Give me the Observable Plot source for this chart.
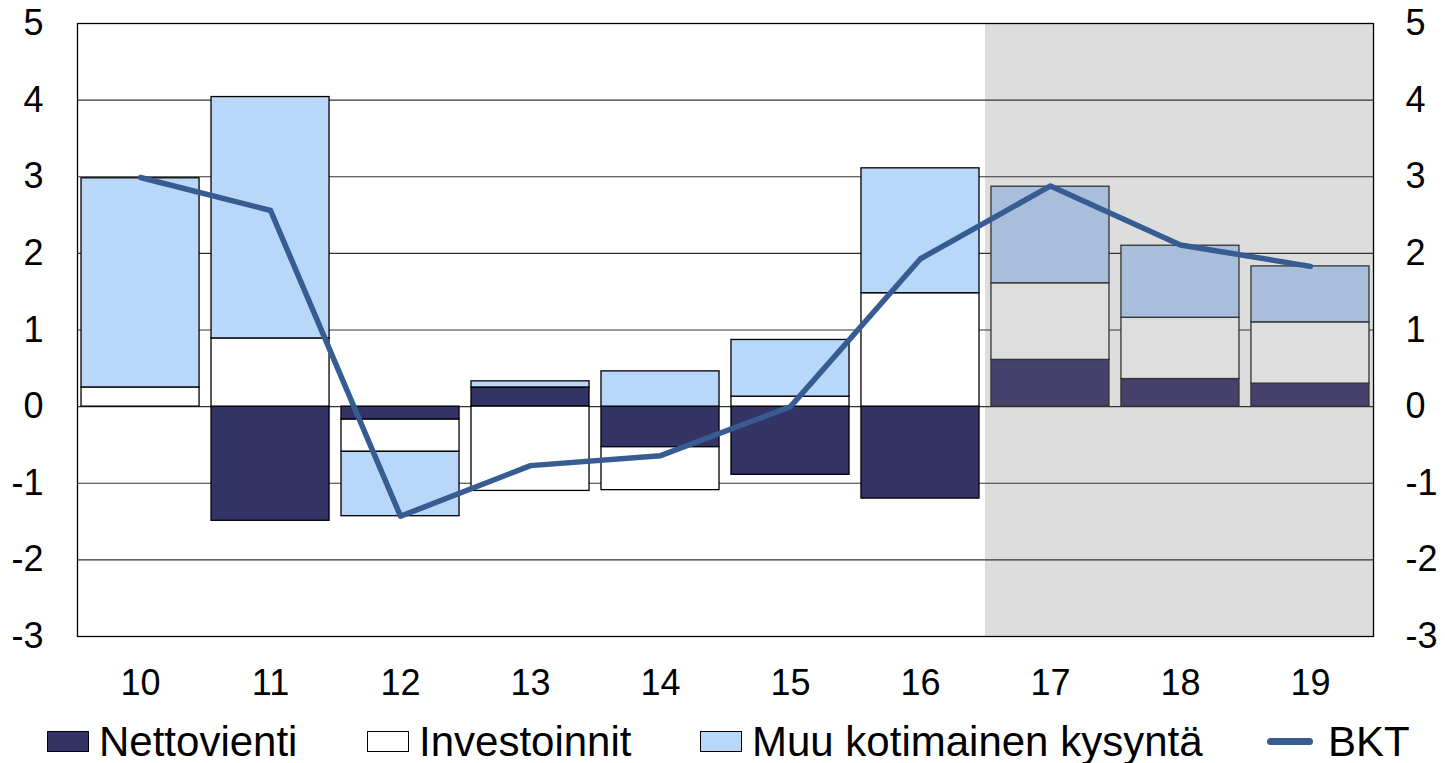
<!DOCTYPE html>
<html>
<head>
<meta charset="utf-8">
<script src="https://cdn.jsdelivr.net/npm/d3@7"></script>
<script src="https://cdn.jsdelivr.net/npm/@observablehq/plot@0.6"></script>
<style>
  html, body { margin: 0; padding: 0; background: #fff; }
  body { width: 1445px; height: 763px; overflow: hidden; font-family: "Liberation Sans", Arial, sans-serif; }
  #legend { position: relative; width: 1445px; height: 51px; font-size: 42px; color: #000; }
  .item { position: absolute; top: 4px; height: 51px; display: flex; align-items: center; white-space: nowrap; }
  .sw { display: inline-block; width: 42px; height: 21px; border: 1px solid #000; box-sizing: border-box; margin-right: 10px; }
  .ln { display: inline-block; width: 46px; height: 7px; border-radius: 4px; background: #365c92; margin-right: 15px; }
</style>
</head>
<body>
<div id="chart"></div>
<div id="legend"></div>
<script>
const years = ["10", "11", "12", "13", "14", "15", "16", "17", "18", "19"];
const forecastYears = ["17", "18", "19"];
const seriesNames = ["Nettovienti", "Investoinnit", "Muu kotimainen kysyntä"];
const nettovienti = [0.0, -1.49, -0.17, 0.25, -0.53, -0.89, -1.20, 0.61, 0.36, 0.30];
const investoinnit = [0.25, 0.89, -0.42, -1.10, -0.56, 0.13, 1.48, 1.00, 0.80, 0.80];
const muuKysynta = [2.73, 3.15, -0.84, 0.08, 0.46, 0.74, 1.63, 1.26, 0.94, 0.73];
const bkt = [2.99, 2.56, -1.43, -0.77, -0.64, 0.0, 1.93, 2.88, 2.11, 1.83];
const yTicks = [-3, -2, -1, 0, 1, 2, 3, 4, 5];
const gridTicks = [-2, -1, 0, 1, 2, 3, 4];

const colors = {
  "Nettovienti": "#333366",
  "Investoinnit": "#ffffff",
  "Muu kotimainen kysyntä": "#b9d7f8"
};
const forecastColors = {
  "Nettovienti": "#45416b",
  "Investoinnit": "#dedede",
  "Muu kotimainen kysyntä": "#a9bedb"
};

const seriesValues = [nettovienti, investoinnit, muuKysynta];
const bars = [];
seriesNames.forEach((s, si) => {
  years.forEach((y, i) => {
    bars.push({year: y, series: s, value: seriesValues[si][i]});
  });
});
const line = years.map((y, i) => ({year: y, value: bkt[i]}));
const isForecast = y => forecastYears.includes(y);

const chart = Plot.plot({
  width: 1445,
  height: 712,
  marginTop: 23,
  marginBottom: 76,
  marginLeft: 77,
  marginRight: 72,
  style: {fontFamily: "'Liberation Sans', Arial, sans-serif", background: "#fff"},
  x: {domain: years, paddingInner: 0.092, paddingOuter: 0.031, round: false, label: null},
  y: {domain: [-3, 5], label: null},
  color: {type: "identity"},
  marks: [
    Plot.barY(forecastYears.slice(0, 2), {x: d => d, y1: -3, y2: 5, fill: "#dddddd", insetLeft: -6, insetRight: -6}),
    Plot.barY(forecastYears.slice(2), {x: d => d, y1: -3, y2: 5, fill: "#dddddd", insetLeft: -6, insetRight: -5}),
    Plot.ruleY(gridTicks, {stroke: "#333", strokeWidth: 1.2}),
    Plot.barY(bars, Plot.stackY({
      x: "year",
      y: "value",
      z: "series",
      fill: d => (isForecast(d.year) ? forecastColors : colors)[d.series],
      stroke: d => isForecast(d.year) ? "#333" : "#000",
      strokeWidth: 1.3
    })),
    Plot.line(line, {x: "year", y: "value", stroke: "#365c92", strokeWidth: 5.5, strokeLinejoin: "round", strokeLinecap: "round"}),
    Plot.frame({stroke: "#000", strokeWidth: 1.3}),
    Plot.axisY(yTicks, {anchor: "left", tickSize: 0, tickPadding: 34, fontSize: 36, tickFormat: d => d}),
    Plot.axisY(yTicks, {anchor: "right", tickSize: 0, tickPadding: 32, fontSize: 36, tickFormat: d => d}),
    Plot.axisX(years, {anchor: "bottom", tickSize: 0, tickPadding: 33, fontSize: 36})
  ]
});
chart.querySelectorAll("text").forEach(t => t.setAttribute("fill", "#000"));
document.getElementById("chart").appendChild(chart);

const legendItems = [
  {label: "Nettovienti", left: 47, kind: "box", color: colors["Nettovienti"]},
  {label: "Investoinnit", left: 367, kind: "box", color: colors["Investoinnit"]},
  {label: "Muu kotimainen kysyntä", left: 700, kind: "box", color: colors["Muu kotimainen kysyntä"]},
  {label: "BKT", left: 1267, kind: "line", color: "#365c92"}
];
const legend = document.getElementById("legend");
legendItems.forEach(it => {
  const div = document.createElement("div");
  div.className = "item";
  div.style.left = it.left + "px";
  const sw = document.createElement("span");
  sw.className = it.kind === "box" ? "sw" : "ln";
  sw.style.background = it.color;
  const tx = document.createElement("span");
  tx.textContent = it.label;
  div.appendChild(sw);
  div.appendChild(tx);
  legend.appendChild(div);
});
</script>
</body>
</html>
